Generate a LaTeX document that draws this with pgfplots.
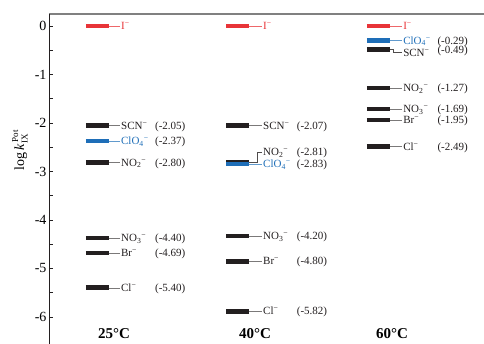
\documentclass[border=0pt]{standalone}
\usepackage{pgfplots}
\pgfplotsset{compat=1.18}
\usepackage{amsmath}
\usepackage{fontspec}
\setmainfont{Liberation Serif}
\definecolor{ired}{RGB}{232,52,56}
\definecolor{iblue}{RGB}{30,110,184}
\definecolor{iblack}{RGB}{35,31,32}
\newcommand{\sm}{\textsuperscript{−}}
\begin{document}
\begin{tikzpicture}[
  lab/.style={anchor=west, inner sep=0pt, text height=7.2pt, text depth=0pt, font=\fontsize{11}{11}\selectfont},
  cat/.style={anchor=center, inner sep=0pt, font=\fontsize{15}{15}\selectfont\bfseries}]
\begin{axis}[at={(0,0)}, anchor=north west, scale only axis,
  width=435pt, height=330pt,
  xmin=0.655, xmax=3.751, ymin=-6.557, ymax=0.247,
  axis x line*=top, axis y line*=left,
  x axis line style={gray, line width=1.2pt},
  y axis line style={iblack, line width=0.8pt},
  xtick=\empty,
  ytick={-6,-5,-4,-3,-2,-1,0},
  yticklabels={-6,-5,-4,-3,-2,-1,0},
  minor ytick={-5.5,-4.5,-3.5,-2.5,-1.5,-0.5},
  tick align=inside, major tick length=4pt, minor tick length=4pt,
  tick style={iblack, line width=0.6pt},
  yticklabel style={font=\fontsize{14}{14}\selectfont, xshift=1pt},
  clip=false,
  bar/.style={line width=4.8pt, line cap=butt},
  conn/.style={line width=0.7pt},
]
% ---------- 25 C ----------
\addplot[bar, ired]   coordinates {(0.918,0) (1.082,0)};
\addplot[conn, ired!75] coordinates {(1.082,0) (1.160,0)};
\addplot[bar, iblack] coordinates {(0.918,-2.05) (1.082,-2.05)};
\addplot[conn, iblack!60] coordinates {(1.082,-2.05) (1.160,-2.05)};
\addplot[bar, iblue]  coordinates {(0.918,-2.37) (1.082,-2.37)};
\addplot[conn, iblue!70] coordinates {(1.082,-2.37) (1.160,-2.37)};
\addplot[bar, iblack] coordinates {(0.918,-2.82) (1.082,-2.82)};
\addplot[conn, iblack!60] coordinates {(1.082,-2.82) (1.160,-2.82)};
\addplot[bar, iblack] coordinates {(0.918,-4.37) (1.082,-4.37)};
\addplot[conn, iblack!60] coordinates {(1.082,-4.37) (1.160,-4.37)};
\addplot[bar, iblack] coordinates {(0.918,-4.68) (1.082,-4.68)};
\addplot[conn, iblack!60] coordinates {(1.082,-4.68) (1.160,-4.68)};
\addplot[bar, iblack] coordinates {(0.918,-5.40) (1.082,-5.40)};
\addplot[conn, iblack!60] coordinates {(1.082,-5.40) (1.160,-5.40)};
% ---------- 40 C ----------
\addplot[bar, ired]   coordinates {(1.915,0) (2.079,0)};
\addplot[conn, ired!75] coordinates {(2.079,0) (2.171,0)};
\addplot[bar, iblack] coordinates {(1.915,-2.05) (2.079,-2.05)};
\addplot[conn, iblack!60] coordinates {(2.079,-2.05) (2.171,-2.05)};
\addplot[bar, iblack] coordinates {(1.915,-2.81) (2.079,-2.81)};
\addplot[conn, iblack!80] coordinates {(2.079,-2.81) (2.138,-2.81) (2.138,-2.60) (2.171,-2.60)};
\addplot[bar, iblue]  coordinates {(1.915,-2.845) (2.079,-2.845)};
\addplot[conn, iblue!70] coordinates {(2.079,-2.85) (2.171,-2.85)};
\addplot[bar, iblack] coordinates {(1.915,-4.33) (2.079,-4.33)};
\addplot[conn, iblack!60] coordinates {(2.079,-4.33) (2.171,-4.33)};
\addplot[bar, iblack] coordinates {(1.915,-4.85) (2.079,-4.85)};
\addplot[conn, iblack!60] coordinates {(2.079,-4.85) (2.171,-4.85)};
\addplot[bar, iblack] coordinates {(1.915,-5.88) (2.079,-5.88)};
\addplot[conn, iblack!60] coordinates {(2.079,-5.88) (2.171,-5.88)};
% ---------- 60 C ----------
\addplot[bar, ired]   coordinates {(2.918,0) (3.082,0)};
\addplot[conn, ired!75] coordinates {(3.082,0) (3.168,0)};
\addplot[bar, iblue]  coordinates {(2.918,-0.30) (3.082,-0.30)};
\addplot[conn, iblue!70] coordinates {(3.082,-0.30) (3.168,-0.30)};
\addplot[bar, iblack] coordinates {(2.918,-0.48) (3.082,-0.48)};
\addplot[conn, iblack!80] coordinates {(3.082,-0.48) (3.103,-0.48) (3.103,-0.55) (3.168,-0.55)};
\addplot[bar, iblack] coordinates {(2.918,-1.28) (3.082,-1.28)};
\addplot[conn, iblack!60] coordinates {(3.082,-1.28) (3.168,-1.28)};
\addplot[bar, iblack] coordinates {(2.918,-1.71) (3.082,-1.71)};
\addplot[conn, iblack!60] coordinates {(3.082,-1.71) (3.168,-1.71)};
\addplot[bar, iblack] coordinates {(2.918,-1.94) (3.082,-1.94)};
\addplot[conn, iblack!60] coordinates {(3.082,-1.94) (3.168,-1.94)};
\addplot[bar, iblack] coordinates {(2.918,-2.49) (3.082,-2.49)};
\addplot[conn, iblack!60] coordinates {(3.082,-2.49) (3.168,-2.49)};
% ---------- labels 25 C ----------
\node[lab, text=ired]   at (axis cs:1.167,0) {I\sm};
\node[lab, text=iblack] at (axis cs:1.167,-2.05) {SCN\sm};
\node[lab, text=iblack] at (axis cs:1.409,-2.05) {(-2.05)};
\node[lab, text=iblue]  at (axis cs:1.167,-2.37) {ClO\textsubscript{4}\sm};
\node[lab, text=iblack] at (axis cs:1.409,-2.37) {(-2.37)};
\node[lab, text=iblack] at (axis cs:1.167,-2.82) {NO\textsubscript{2}\sm};
\node[lab, text=iblack] at (axis cs:1.409,-2.82) {(-2.80)};
\node[lab, text=iblack] at (axis cs:1.167,-4.37) {NO\textsubscript{3}\sm};
\node[lab, text=iblack] at (axis cs:1.409,-4.37) {(-4.40)};
\node[lab, text=iblack] at (axis cs:1.167,-4.68) {Br\sm};
\node[lab, text=iblack] at (axis cs:1.409,-4.68) {(-4.69)};
\node[lab, text=iblack] at (axis cs:1.167,-5.40) {Cl\sm};
\node[lab, text=iblack] at (axis cs:1.409,-5.40) {(-5.40)};
% ---------- labels 40 C ----------
\node[lab, text=ired]   at (axis cs:2.178,0) {I\sm};
\node[lab, text=iblack] at (axis cs:2.178,-2.05) {SCN\sm};
\node[lab, text=iblack] at (axis cs:2.418,-2.05) {(-2.07)};
\node[lab, text=iblack] at (axis cs:2.178,-2.60) {NO\textsubscript{2}\sm};
\node[lab, text=iblack] at (axis cs:2.418,-2.60) {(-2.81)};
\node[lab, text=iblue]  at (axis cs:2.178,-2.85) {ClO\textsubscript{4}\sm};
\node[lab, text=iblack] at (axis cs:2.418,-2.85) {(-2.83)};
\node[lab, text=iblack] at (axis cs:2.178,-4.33) {NO\textsubscript{3}\sm};
\node[lab, text=iblack] at (axis cs:2.418,-4.33) {(-4.20)};
\node[lab, text=iblack] at (axis cs:2.178,-4.85) {Br\sm};
\node[lab, text=iblack] at (axis cs:2.418,-4.85) {(-4.80)};
\node[lab, text=iblack] at (axis cs:2.178,-5.88) {Cl\sm};
\node[lab, text=iblack] at (axis cs:2.418,-5.88) {(-5.82)};
% ---------- labels 60 C ----------
\node[lab, text=ired]   at (axis cs:3.175,0) {I\sm};
\node[lab, text=iblue]  at (axis cs:3.175,-0.30) {ClO\textsubscript{4}\sm};
\node[lab, text=iblack] at (axis cs:3.419,-0.30) {(-0.29)};
\node[lab, text=iblack] at (axis cs:3.175,-0.55) {SCN\sm};
\node[lab, text=iblack] at (axis cs:3.419,-0.50) {(-0.49)};
\node[lab, text=iblack] at (axis cs:3.175,-1.28) {NO\textsubscript{2}\sm};
\node[lab, text=iblack] at (axis cs:3.419,-1.28) {(-1.27)};
\node[lab, text=iblack] at (axis cs:3.175,-1.71) {NO\textsubscript{3}\sm};
\node[lab, text=iblack] at (axis cs:3.419,-1.71) {(-1.69)};
\node[lab, text=iblack] at (axis cs:3.175,-1.94) {Br\sm};
\node[lab, text=iblack] at (axis cs:3.419,-1.94) {(-1.95)};
\node[lab, text=iblack] at (axis cs:3.175,-2.49) {Cl\sm};
\node[lab, text=iblack] at (axis cs:3.419,-2.49) {(-2.49)};
% ---------- categories ----------
\node[cat] at (axis cs:1.118,-6.35) {25°C};
\node[cat] at (axis cs:2.121,-6.35) {40°C};
\node[cat] at (axis cs:3.096,-6.35) {60°C};
\end{axis}
\node[rotate=90, inner sep=0pt, font=\fontsize{14}{14}\selectfont] at (-29pt,-136pt)
  {$\text{log}\,\textit{k}^{\,\text{\fontsize{9}{9}\selectfont Pot}}_{\text{\fontsize{9}{9}\selectfont IX}}$};
\pgfresetboundingbox
\path (-49pt,14pt) rectangle (435pt,-330pt);
\end{tikzpicture}
\end{document}
